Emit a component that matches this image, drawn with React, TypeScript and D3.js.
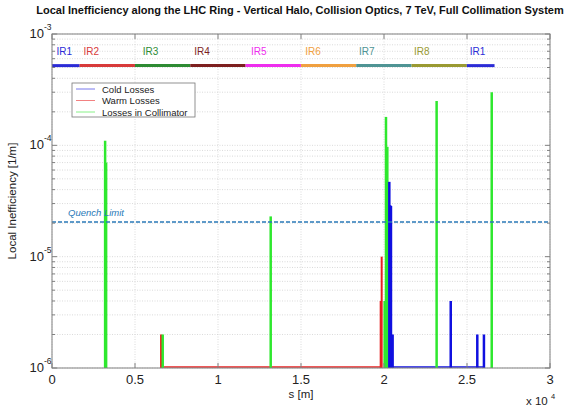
import React from "react";
import * as d3 from "d3";

// ---- data ----
const irNames = ["IR1", "IR2", "IR3", "IR4", "IR5", "IR6", "IR7", "IR8", "IR1"];
const irStarts = [0, 1666, 4998, 8330, 11662, 14994, 18326, 21658, 24990];
const irEnds = [1666, 4998, 8330, 11662, 14994, 18326, 21658, 24990, 26659];
const irLabelPos = [270, 1900, 5470, 8570, 11990, 15250, 18500, 21810, 25160];
const irColors = ["#2b2bd6", "#d83a3a", "#2e8b34", "#7d1f1f", "#ee2eee", "#f0a040", "#4f9494", "#9a9a32", "#2b2bd6"];
const irLevel = 5.2e-4;

const coldS = [20320, 20370, 20420, 20520, 24020, 25620, 26020];
const coldV = [4.7e-5, 2.9e-5, 2.85e-5, 2e-6, 4e-6, 2e-6, 2e-6];
const warmS = [6570, 19800, 19860];
const warmV = [2e-6, 4e-6, 1e-5];
const collS = [3200, 3260, 6670, 13175, 20040, 20120, 20200, 23170, 26490];
const collV = [1.1e-4, 7e-5, 2e-6, 2.3e-5, 4e-6, 1.8e-4, 9.7e-5, 2.5e-4, 3e-4];
const warmBase = [6600, 19860];
const coldBase = [20500, 26050];

const quenchLimit = 2.05e-5;
const xTicks = [0, 5000, 10000, 15000, 20000, 25000, 30000];
const yMajor = [1e-6, 1e-5, 1e-4, 1e-3];
const legendLabels = ["Cold Losses", "Warm Losses", "Losses in Collimator"];

const title = "Local Inefficiency along the LHC Ring - Vertical Halo, Collision Optics, 7 TeV, Full Collimation System";

// ---- layout ----
const W = 581, H = 410;
const L = 52, R = 550, T = 34, B = 368;
const FONT = "Arial, 'Liberation Sans', Helvetica, sans-serif";
const COLD = "#1010e0", WARM = "#e82020", COLL = "#2ee82e";

export default function App() {
  const x = d3.scaleLinear().domain([0, 30000]).range([L, R]);
  const y = d3.scaleLog().domain([1e-6, 1e-3]).range([B, T]);
  const minor: number[] = [];
  for (let k = -6; k < -3; k++) for (let m = 2; m <= 9; m++) minor.push(m * Math.pow(10, k));

  const spikes = (s: number[], v: number[], color: string, w: number, key: string) =>
    s.map((si, i) => (
      <line key={key + i} x1={x(si)} x2={x(si)} y1={y(1e-6)} y2={y(v[i])} stroke={color} strokeWidth={w} />
    ));

  const gridColor = "#d0d0d0";
  return (
    <svg width={W} height={H} style={{ position: "absolute", left: 0, top: 0, background: "#fff" }} fontFamily={FONT}>
      <rect x={0} y={0} width={W} height={H} fill="#fff" />
      <text x={300} y={14} textAnchor="middle" fontSize={11} fontWeight="bold" fill="#111">{title}</text>
      {/* grid */}
      {minor.concat(yMajor).map((v, i) => (
        <line key={"hg" + i} x1={L} x2={R} y1={y(v)} y2={y(v)} stroke={gridColor} strokeWidth={0.8} strokeDasharray="1,1.5" />
      ))}
      {xTicks.map((t, i) => (
        <line key={"vg" + i} x1={x(t)} x2={x(t)} y1={T} y2={B} stroke={gridColor} strokeWidth={0.8} strokeDasharray="1,1.5" />
      ))}
      {/* IR segments */}
      {irNames.map((n, i) => (
        <g key={"ir" + i}>
          <line x1={x(irStarts[i])} x2={x(irEnds[i])} y1={y(irLevel)} y2={y(irLevel)} stroke={irColors[i]} strokeWidth={3} />
          <text x={x(irLabelPos[i])} y={y(irLevel) - 11} fontSize={10} fill={irColors[i]}>{n}</text>
        </g>
      ))}
      {/* baselines */}
      <line x1={x(warmBase[0])} x2={x(warmBase[1])} y1={B - 1} y2={B - 1} stroke={WARM} strokeWidth={1.5} />
      <line x1={x(coldBase[0])} x2={x(coldBase[1])} y1={B - 1} y2={B - 1} stroke={COLD} strokeWidth={1.5} />
      {spikes(warmS, warmV, WARM, 2, "w")}
      {spikes(collS, collV, COLL, 2.5, "c")}
      {spikes(coldS, coldV, COLD, 2.5, "k")}
      {/* quench limit */}
      <line x1={L} x2={R} y1={y(quenchLimit)} y2={y(quenchLimit)} stroke="#2a7ab8" strokeWidth={1.5} strokeDasharray="4,2" />
      <text x={68} y={y(quenchLimit) - 6} fontSize={9.5} fontStyle="italic" fill="#2a7ab8">Quench Limit</text>
      {/* frame + ticks */}
      <rect x={L} y={T} width={R - L} height={B - T} fill="none" stroke="#808080" strokeWidth={1} />
      {yMajor.map((v, i) => (
        <g key={"ym" + i}>
          <line x1={L} x2={L + 5} y1={y(v)} y2={y(v)} stroke="#808080" />
          <line x1={R} x2={R - 5} y1={y(v)} y2={y(v)} stroke="#808080" />
          <text x={L - 8} y={y(v) + 4} textAnchor="end" fontSize={13} fill="#222">10</text>
          <text x={L - 8} y={y(v) - 4} fontSize={8.5} fill="#222">{Math.round(Math.log10(v))}</text>
        </g>
      ))}
      {minor.map((v, i) => (
        <g key={"yn" + i}>
          <line x1={L} x2={L + 3} y1={y(v)} y2={y(v)} stroke="#808080" />
          <line x1={R} x2={R - 3} y1={y(v)} y2={y(v)} stroke="#808080" />
        </g>
      ))}
      {xTicks.map((t, i) => (
        <g key={"xt" + i}>
          <line x1={x(t)} x2={x(t)} y1={B} y2={B - 5} stroke="#808080" />
          <line x1={x(t)} x2={x(t)} y1={T} y2={T + 5} stroke="#808080" />
          <text x={x(t)} y={B + 16} textAnchor="middle" fontSize={13} fill="#222">{d3.format("~g")(t / 1e4)}</text>
        </g>
      ))}
      <text x={(L + R) / 2} y={B + 30} textAnchor="middle" fontSize={11.5} fill="#222">s [m]</text>
      <text x={R - 24} y={B + 37} fontSize={11.5} fill="#222">x 10</text>
      <text x={R + 1} y={B + 31} fontSize={7.5} fill="#222">4</text>
      <text transform={`translate(16,${(T + B) / 2}) rotate(-90)`} textAnchor="middle" fontSize={11.5} fill="#222">Local Inefficiency [1/m]</text>
      {/* legend */}
      <rect x={72} y={83} width={123} height={34} fill="#fff" stroke="#777" strokeWidth={0.8} />
      {legendLabels.map((lab, i) => (
        <g key={"lg" + i}>
          <line x1={76} x2={95} y1={89 + i * 11.5} y2={89 + i * 11.5} stroke={[COLD, WARM, COLL][i]} strokeWidth={0.8} opacity={0.7} />
          <text x={102} y={92.5 + i * 11.5} fontSize={9.5} fill="#222">{lab}</text>
        </g>
      ))}
    </svg>
  );
}
